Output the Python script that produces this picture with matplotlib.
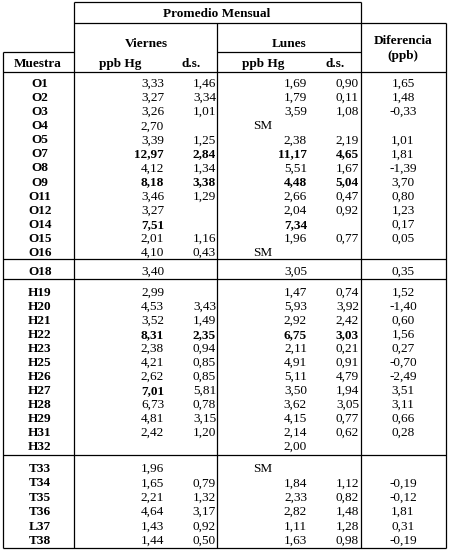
import matplotlib
matplotlib.use("Agg")
import matplotlib.pyplot as plt

# table contents (None = empty cell, "SM" = sin muestra)
muestras = ["O1", "O2", "O3", "O4", "O5", "O7", "O8", "O9", "O11", "O12", "O14", "O15", "O16",
            "O18",
            "H19", "H20", "H21", "H22", "H23", "H25", "H26", "H27", "H28", "H29", "H31", "H32",
            "T33", "T34", "T35", "T36", "L37", "T38"]
viernes_ppb = ["3,33", "3,27", "3,26", "2,70", "3,39", "12,97", "4,12", "8,18", "3,46", "3,27", "7,51", "2,01", "4,10",
               "3,40",
               "2,99", "4,53", "3,52", "8,31", "2,38", "4,21", "2,62", "7,01", "6,73", "4,81", "2,42", None,
               "1,96", "1,65", "2,21", "4,64", "1,43", "1,44"]
viernes_ds = ["1,46", "3,34", "1,01", None, "1,25", "2,84", "1,34", "3,38", "1,29", None, None, "1,16", "0,43",
              None,
              None, "3,43", "1,49", "2,35", "0,94", "0,85", "0,85", "5,81", "0,78", "3,15", "1,20", None,
              None, "0,79", "1,32", "3,17", "0,92", "0,50"]
lunes_ppb = ["1,69", "1,79", "3,59", "SM", "2,38", "11,17", "5,51", "4,48", "2,66", "2,04", "7,34", "1,96", "SM",
             "3,05",
             "1,47", "5,93", "2,92", "6,75", "2,11", "4,91", "5,11", "3,50", "3,62", "4,15", "2,14", "2,00",
             "SM", "1,84", "2,33", "2,82", "1,11", "1,63"]
lunes_ds = ["0,90", "0,11", "1,08", None, "2,19", "4,65", "1,67", "5,04", "0,47", "0,92", None, "0,77", None,
            None,
            "0,74", "3,92", "2,42", "3,03", "0,21", "0,91", "4,79", "1,94", "3,05", "0,77", "0,62", None,
            None, "1,12", "0,82", "1,48", "1,28", "0,98"]
diferencia = ["1,65", "1,48", "-0,33", None, "1,01", "1,81", "-1,39", "3,70", "0,80", "1,23", "0,17", "0,05", None,
              "0,35",
              "1,52", "-1,40", "0,60", "1,56", "0,27", "-0,70", "-2,49", "3,51", "3,11", "0,66", "0,28", None,
              None, "-0,19", "-0,12", "1,81", "0,31", "-0,19"]
# bold cells: (row label, column index 0..3)
bold_cells = {("O7", 0), ("O7", 1), ("O7", 2), ("O7", 3),
              ("O9", 0), ("O9", 1), ("O9", 2), ("O9", 3),
              ("O14", 0), ("O14", 2),
              ("H22", 0), ("H22", 1), ("H22", 2), ("H22", 3),
              ("H27", 0)}

fig = plt.figure(figsize=(4.49, 5.51), dpi=100)
ax = fig.add_axes([0, 0, 1, 1])
ax.set_xlim(0, 449)
ax.set_ylim(551, 0)
ax.axis("off")
font = dict(family=["Liberation Serif", "DejaVu Serif"], fontsize=9.5, color="black")


def line(x0, y0, x1, y1):
    ax.plot([x0, x1], [y0, y1], color="black", lw=0.9, solid_capstyle="butt")


# grid lines
line(74, 2, 361, 2)
line(74, 23, 446, 23)
line(3, 52, 74, 52)
line(217, 52, 361, 52)
line(3, 72, 446, 72)
line(3, 259, 446, 259)
line(3, 279, 446, 279)
line(3, 455, 446, 455)
line(3, 548, 446, 548)
line(3, 52, 3, 548)
line(74, 2, 74, 548)
line(217, 23, 217, 548)
line(361, 2, 361, 548)
line(446, 23, 446, 548)

# headers
ax.text(217, 14, "Promedio Mensual", ha="center", va="center", fontweight="bold", **font)
ax.text(146, 44, "Viernes", ha="center", va="center", fontweight="bold", **font)
ax.text(289, 44, "Lunes", ha="center", va="center", fontweight="bold", **font)
ax.text(403, 41, "Diferencia", ha="center", va="center", fontweight="bold", **font)
ax.text(403, 56, "(ppb)", ha="center", va="center", fontweight="bold", **font)
ax.text(38, 64, "Muestra", ha="center", va="center", fontweight="bold", **font)
ax.text(99, 64, "ppb Hg", ha="left", va="center", fontweight="bold", **font)
ax.text(191, 64, "d.s.", ha="center", va="center", fontweight="bold", **font)
ax.text(242, 64, "ppb Hg", ha="left", va="center", fontweight="bold", **font)
ax.text(335, 64, "d.s.", ha="center", va="center", fontweight="bold", **font)

# row positions per block
ys = [84 + 14.08 * i for i in range(13)] + [272] + \
     [293 + 14.0 * i for i in range(12)] + [469 + 14.4 * i for i in range(6)]

col_x = [164, 216, 307, 359]
for y, m, vp, vd, lp, ld, d in zip(ys, muestras, viernes_ppb, viernes_ds, lunes_ppb, lunes_ds, diferencia):
    ax.text(40, y, m, ha="center", va="center", fontweight="bold", **font)
    for j, val in enumerate([vp, vd, lp, ld]):
        if val is None:
            continue
        w = "bold" if (m, j) in bold_cells else "normal"
        if val == "SM":
            ax.text(253, y, val, ha="left", va="center", fontweight=w, **font)
        else:
            ax.text(col_x[j], y, val, ha="right", va="center", fontweight=w, **font)
    if d is not None:
        ax.text(403, y, d, ha="center", va="center", **font)

fig.savefig("out.png", dpi=100)
